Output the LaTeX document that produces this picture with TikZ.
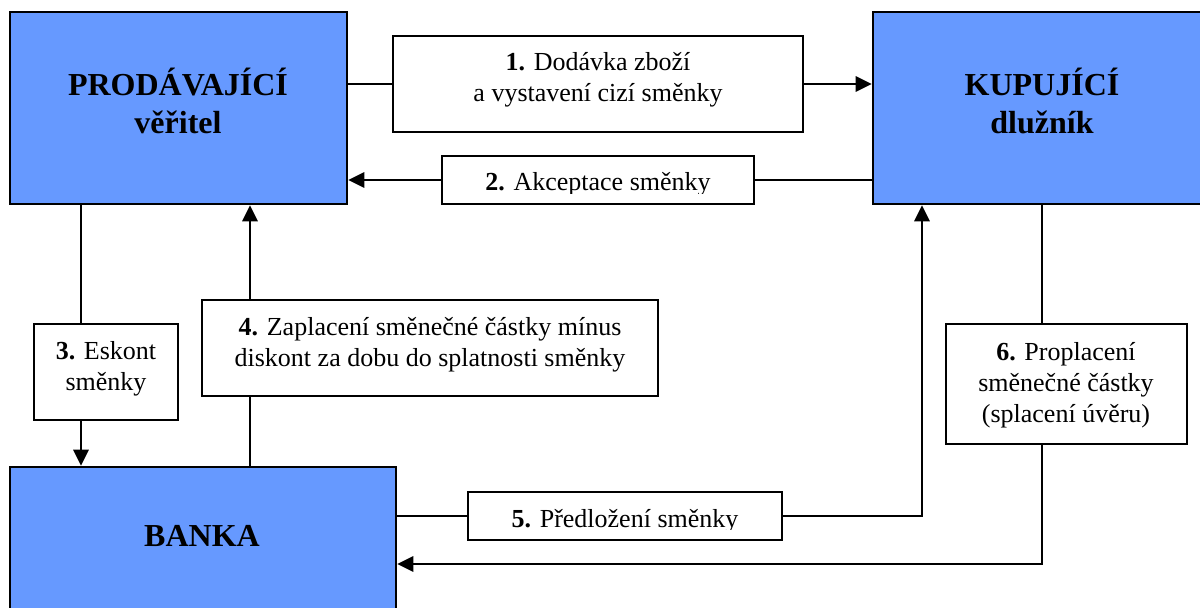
\documentclass[tikz,border=0pt]{standalone}
\usepackage{fontspec}
\setmainfont{Liberation Serif}
\usetikzlibrary{arrows.meta}
\definecolor{boxblue}{RGB}{102,153,255}
\begin{document}
\begin{tikzpicture}[x=1pt,y=-1pt,
  party/.style={draw=black, line width=2.6pt, fill=boxblue, inner sep=0pt},
  stepbox/.style={draw=black, line width=2.2pt, fill=white, inner sep=0pt},
  bigtxt/.style={font=\fontsize{32}{38}\selectfont\bfseries, inner sep=0pt, anchor=base},
  smalltxt/.style={font=\fontsize{26}{31}\selectfont, inner sep=0pt, anchor=base},
  link/.style={line width=2.1pt},
  arr/.style={line width=2.9pt, -{Triangle[length=16pt,width=15pt]}},
]
\useasboundingbox (0,0) rectangle (1200,608);
\fill[white] (0,0) rectangle (1200,608);
\clip (0,0) rectangle (1200,608);

% main boxes
\node[party, minimum width=337pt, minimum height=192pt] (prod) at (178.5,108) {};
\node[party, minimum width=338pt, minimum height=192pt] (kup) at (1042,108) {};
\node[party, minimum width=386pt, minimum height=173pt] (bank) at (203,553.5) {};

\node[bigtxt] (prod1) at (178,95) {PRODÁVAJÍCÍ};
\node[bigtxt] (prod2) at (178,133) {věřitel};
\node[bigtxt] (kup1) at (1042,95) {KUPUJÍCÍ};
\node[bigtxt] (kup2) at (1042,133) {dlužník};
\node[bigtxt] (bank1) at (202,546) {BANKA};

% step boxes
\node[stepbox, minimum width=410pt, minimum height=96pt] (b1) at (598,84) {};
\node[stepbox, minimum width=312pt, minimum height=48pt] (b2) at (598,180) {};
\node[stepbox, minimum width=144pt, minimum height=96pt] (b3) at (106,372) {};
\node[stepbox, minimum width=456pt, minimum height=96pt] (b4) at (430,348) {};
\node[stepbox, minimum width=314pt, minimum height=48pt] (b5) at (625,516) {};
\node[stepbox, minimum width=241pt, minimum height=120pt] (b6) at (1066.5,384) {};

\node[smalltxt] (t1a) at (598,70.5) {\textbf{1.} Dodávka zboží};
\node[smalltxt] (t1b) at (598,101.5) {a vystavení cizí směnky};
\begin{scope}
\clip (442,150) rectangle (754,193);
\node[smalltxt] (t2) at (598,190.5) {\textbf{2.} Akceptace směnky};
\end{scope}
\node[smalltxt] (t3a) at (106,359) {\textbf{3.} Eskont};
\node[smalltxt] (t3b) at (106,390) {směnky};
\node[smalltxt] (t4a) at (430,335) {\textbf{4.} Zaplacení směnečné částky mínus};
\node[smalltxt] (t4b) at (430,366) {diskont za dobu do splatnosti směnky};
\begin{scope}
\clip (468,486) rectangle (782,529.5);
\node[smalltxt] (t5) at (625,527) {\textbf{5.} Předložení směnky};
\end{scope}
\node[smalltxt] (t6a) at (1066,360) {\textbf{6.} Proplacení};
\node[smalltxt] (t6b) at (1066,391) {směnečné částky};
\node[smalltxt] (t6c) at (1066,422) {(splacení úvěru)};

% connector guide coordinates
\coordinate (x3) at (81,0);
\coordinate (x4) at (250,0);
\coordinate (x5) at (922,0);
\coordinate (x6) at (1042,0);
\coordinate (y6) at (0,564);

% connectors
\draw[link] (prod.east |- b1.west) -- (b1.west);
\draw[arr] (b1.east) -- (kup.west |- b1.east);
\draw[link] (kup.west |- b2.east) -- (b2.east);
\draw[arr] (b2.west) -- (prod.east |- b2.west);
\draw[link] (prod.south -| x3) -- (b3.north -| x3);
\draw[arr] (b3.south -| x3) -- (bank.north -| x3);
\draw[link] (bank.north -| x4) -- (b4.south -| x4);
\draw[arr] (b4.north -| x4) -- (prod.south -| x4);
\draw[link] (bank.east |- b5.west) -- (b5.west);
\draw[arr] (b5.east) -| (kup.south -| x5);
\draw[link] (kup.south -| x6) -- (b6.north -| x6);
\draw[arr] (b6.south -| x6) |- (bank.east |- y6);
\end{tikzpicture}
\end{document}
